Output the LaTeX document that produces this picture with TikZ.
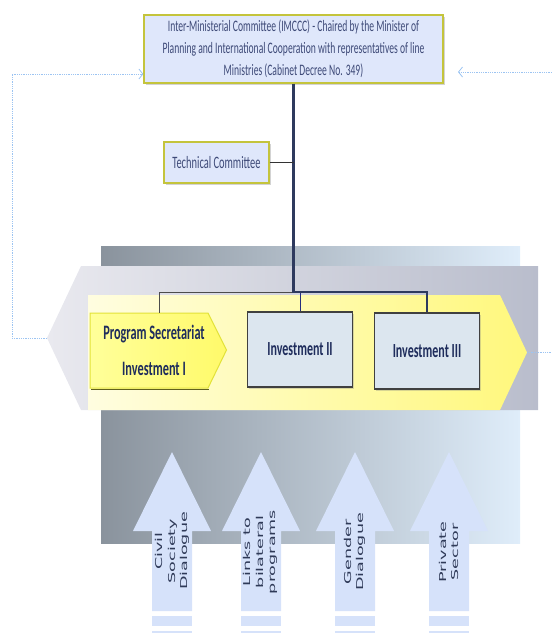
\documentclass[tikz,border=0pt]{standalone}
\usepackage{fontspec}
\setmainfont{Carlito}
\newfontfamily\condfont[FakeStretch=0.6]{Carlito}
\newfontfamily\arrowfont[FakeStretch=1.85]{DejaVu Sans}
\usetikzlibrary{arrows.meta,shadows}
\definecolor{boxblue}{HTML}{DFE7FB}
\definecolor{olive}{HTML}{C4C43C}
\definecolor{slate}{HTML}{3E4A78}
\definecolor{navy}{HTML}{1F2D5C}
\definecolor{linenavy}{HTML}{2E3A5E}
\definecolor{invfill}{HTML}{DCE6EF}
\definecolor{fbblue}{HTML}{9CC4F2}
\definecolor{arrowblue}{HTML}{D6E2FA}
\definecolor{arrowtext}{HTML}{2F3A58}
\definecolor{bgleft}{HTML}{8A939D}
\definecolor{bgright}{HTML}{DFEDFA}
\definecolor{bandleft}{HTML}{E9E9EF}
\definecolor{bandright}{HTML}{B9BDCC}
\definecolor{yelleft}{HTML}{FFFDE0}
\definecolor{yelright}{HTML}{FFF87C}
\definecolor{progleft}{HTML}{FFFF9A}
\definecolor{progright}{HTML}{FFFA6A}
\definecolor{progedge}{HTML}{E2E238}
\tikzset{
  topbox/.style={draw=olive, line width=1.2pt, fill=boxblue, text=slate,
    inner sep=0pt, align=center,
    drop shadow={opacity=0.35, shadow xshift=1.5pt, shadow yshift=-1.5pt}},
  invbox/.style={draw=black!75, line width=1.8pt, fill=invfill, text=navy,
    inner sep=0pt, minimum width=105pt, minimum height=75pt,
    font=\condfont\bfseries\fontsize{20}{24}\selectfont,
    drop shadow={opacity=0.3, shadow xshift=1.5pt, shadow yshift=-1.5pt}},
  thinline/.style={draw=black!70, line width=1pt},
  thickline/.style={draw=linenavy, line width=2.6pt},
  fb/.style={draw=fbblue, line width=0.8pt, densely dotted},
  fbarrow/.style={fb, -{Straight Barb[length=4pt,width=10pt]}},
  uparrow/.style={fill=arrowblue},
  arrowlabel/.style={rotate=90, align=center, text=arrowtext, inner sep=0pt,
    font=\arrowfont\fontsize{9.5}{12.5}\selectfont}
}
\begin{document}
\begin{tikzpicture}[x=1pt,y=-1pt]
\useasboundingbox (0,0) rectangle (552,633);
% background gradient block
\shade[left color=bgleft, right color=bgright] (101,246) rectangle (520,543);
% left-pointing band
\shade[left color=bandleft, right color=bandright]
  (81,266) -- (538,266) -- (538,410) -- (81,410) -- (47,338) -- cycle;
% yellow right-pointing arrow
\shade[left color=yelleft, right color=yelright]
  (88,295) -- (500,295) -- (527,352.5) -- (500,410) -- (88,410) -- cycle;
\coordinate (bandtip) at (47,338);
\coordinate (ytip) at (527,352.5);

% top committee
\node[topbox, minimum width=299pt, minimum height=68pt,
  font=\condfont\fontsize{16}{22}\selectfont] (imccc) at (293.5,49)
  {Inter-Ministerial Committee (IMCCC) - Chaired by the Minister of\\
   Planning and International Cooperation with representatives of line\\
   Ministries (Cabinet Decree No. 349)};
\node[topbox, minimum width=105pt, minimum height=41pt,
  font=\condfont\fontsize{17.4}{20}\selectfont] (tech) at (216.5,162.5)
  {Technical Committee};

% program secretariat
\draw[black!50!olive, line width=1.6pt] (91,389.5) -- (209,389.5);
\shade[left color=progleft, right color=progright, draw=progedge, line width=1pt]
  (90,313) -- (208,313) -- (226.5,350) -- (208,388) -- (90,388) -- cycle;
\node[inner sep=0pt, minimum width=118pt, minimum height=75pt, align=center,
  text=navy, font=\condfont\bfseries\fontsize{20.5}{36}\selectfont]
  (prog) at (154,350.5) {Program Secretariat\\Investment I};

% investment boxes
\node[invbox] (inv2) at (300,349.5) {Investment II};
\node[invbox, minimum height=76pt] (inv3) at (427,351) {Investment III};

% connectors
\coordinate (j) at (293.5,292);
\coordinate (pl) at (159,292);
\draw[thinline] (j) -- (pl) -- (pl |- prog.north);
\draw[thinline, draw=linenavy!80!blue] (inv2.north |- j) -- (inv2.north);
\draw[thickline] (imccc.south) -- (j) -| (inv3.north);
\draw[thinline, line width=1.5pt, draw=black!80] (tech.east) -- (tech.east -| imccc.south);

% feedback dotted lines
\coordinate (fbl) at (12,74);
\coordinate (fbr) at (552,72);
\coordinate (fbrend) at (458,72);
\coordinate (fbout) at (552,352.5);
\draw[fbarrow] (bandtip) -| (fbl) -- (fbl -| imccc.west);
\draw[fbarrow] (fbr) -- (fbrend);
\draw[fb] (ytip) -- (fbout);

% up arrows
\foreach \cx in {172, 261, 355, 449}{
  \fill[uparrow] (\cx,452) -- (\cx+39,531) -- (\cx+20,531) -- (\cx+20,611)
    -- (\cx-20,611) -- (\cx-20,531) -- (\cx-39,531) -- cycle;
  \fill[uparrow] (\cx-20,616) rectangle (\cx+20,626);
  \fill[uparrow] (\cx-20,631) rectangle (\cx+20,640);
}
\node[arrowlabel] (l1) at (172.5,551) {Civil\\Society\\Dialogue};
\node[arrowlabel] (l2) at (260.5,552) {Links to\\bilateral\\programs};
\node[arrowlabel] (l3) at (355,552) {Gender\\Dialogue};
\node[arrowlabel] (l4) at (449,552) {Private\\Sector};
\end{tikzpicture}
\end{document}
